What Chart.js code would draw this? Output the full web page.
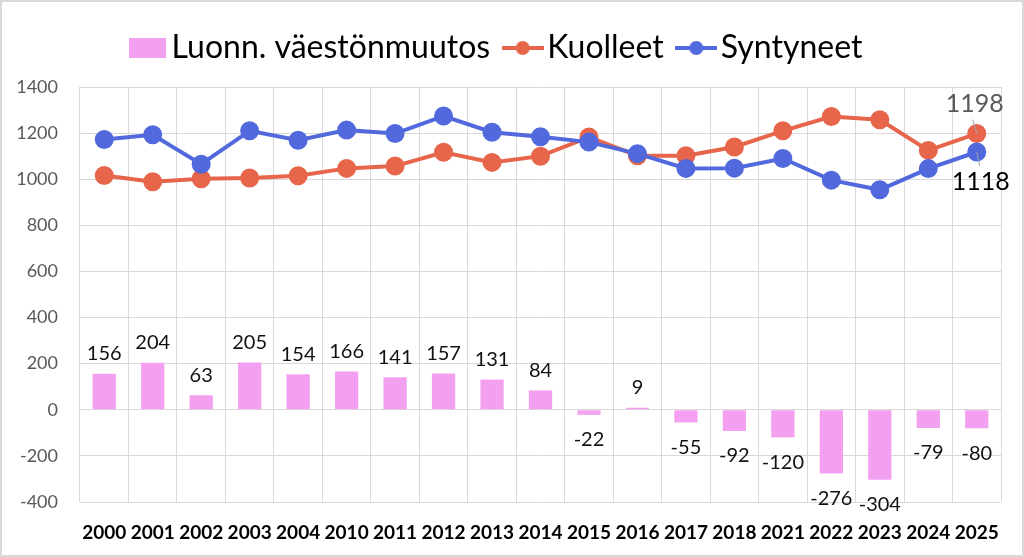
<!DOCTYPE html>
<html>
<head>
<meta charset="utf-8">
<script src="https://cdn.jsdelivr.net/npm/chart.js@4/dist/chart.umd.min.js"></script>
<style>
  html, body { margin: 0; padding: 0; background: #fff; }
  #wrap { width: 1024px; height: 557px; }
</style>
</head>
<body>
<div id="wrap"><canvas id="chart"></canvas></div>
<script>
// Years on the x axis (not continuous)
const years = ["2000", "2001", "2002", "2003", "2004", "2010", "2011", "2012", "2013", "2014",
  "2015", "2016", "2017", "2018", "2021", "2022", "2023", "2024", "2025"];

// Natural population change (bars)
const luonnMuutos = [156, 204, 63, 205, 154, 166, 141, 157, 131, 84,
  -22, 9, -55, -92, -120, -276, -304, -79, -80];

// Deaths
const kuolleet = [1016, 989, 1002, 1005, 1015, 1047, 1057, 1117, 1073, 1100,
  1183, 1102, 1102, 1140, 1210, 1272, 1258, 1125, 1198];

// Births
const syntyneet = [1172, 1193, 1065, 1210, 1169, 1213, 1198, 1274, 1204, 1184,
  1161, 1111, 1047, 1048, 1090, 996, 954, 1046, 1118];

const yMin = -400;
const yMax = 1400;
const yStep = 200;

const pink = "#f4a0f0";
const red = "#e7664b";
const blue = "#5169dc";

// Legend symbols: a box for the bars, a line with a dot for the lines
function boxSymbol() {
  const c = document.createElement("canvas");
  c.width = 37; c.height = 20;
  const g = c.getContext("2d");
  g.fillStyle = pink;
  g.fillRect(0, 0, 37, 20);
  return c;
}
function lineSymbol(color) {
  const c = document.createElement("canvas");
  c.width = 42; c.height = 16;
  const g = c.getContext("2d");
  g.strokeStyle = color;
  g.lineWidth = 4;
  g.beginPath(); g.moveTo(0, 8); g.lineTo(42, 8); g.stroke();
  g.fillStyle = color;
  g.beginPath(); g.arc(21, 8, 7, 0, Math.PI * 2); g.fill();
  return c;
}
const legendSymbols = [boxSymbol(), lineSymbol(red), lineSymbol(blue)];

// Frame round the whole picture
const framePlugin = {
  id: "frame",
  beforeDraw(chart) {
    const ctx = chart.ctx;
    ctx.save();
    ctx.fillStyle = "#fff";
    ctx.fillRect(0, 0, chart.width, chart.height);
    ctx.strokeStyle = "#d9d9d9";
    ctx.lineWidth = 2;
    ctx.strokeRect(1, 1, chart.width - 2, chart.height - 2);
    ctx.restore();
  },
};

// Extra room under the legend
const legendMargin = {
  id: "legendMargin",
  beforeInit(chart) {
    const fit = chart.legend.fit;
    chart.legend.fit = function () {
      fit.bind(chart.legend)();
      this.height += 13;
    };
  },
};

// Value labels for the bars and for the last points of the lines
const labelPlugin = {
  id: "valueLabels",
  afterDatasetsDraw(chart) {
    const ctx = chart.ctx;
    ctx.save();
    ctx.textAlign = "center";
    ctx.textBaseline = "middle";
    ctx.font = "20px Lato";
    ctx.fillStyle = "#111";
    const barMeta = chart.getDatasetMeta(0);
    barMeta.data.forEach((bar, i) => {
      const v = luonnMuutos[i];
      const y = v >= 0 ? bar.y - 20 : bar.y + 25;
      ctx.fillText(String(v), bar.x, y);
    });

    // last point labels with small leader lines
    const last = years.length - 1;
    const pr = chart.getDatasetMeta(1).data[last];
    const pb = chart.getDatasetMeta(2).data[last];
    ctx.strokeStyle = "#a6a6a6";
    ctx.lineWidth = 1;
    ctx.beginPath();
    ctx.moveTo(pr.x - 4, pr.y - 14); ctx.lineTo(pr.x, pr.y);
    ctx.moveTo(pb.x + 3, pb.y + 14); ctx.lineTo(pb.x, pb.y);
    ctx.stroke();
    ctx.font = "25px Lato";
    ctx.fillStyle = "#595959";
    ctx.fillText(String(kuolleet[last]), pr.x - 2, pr.y - 30);
    ctx.fillStyle = "#000";
    ctx.fillText(String(syntyneet[last]), pb.x + 4, pb.y + 30);
    ctx.restore();
  },
};

const ctx = document.getElementById("chart").getContext("2d");
const chart = new Chart(ctx, {
  type: "bar",
  data: {
    labels: years,
    datasets: [
      {
        type: "bar",
        label: "Luonn. väestönmuutos",
        data: luonnMuutos,
        backgroundColor: pink,
        barPercentage: 0.96,
        categoryPercentage: 0.5,
        order: 3,
      },
      {
        type: "line",
        label: "Kuolleet",
        data: kuolleet,
        borderColor: red,
        backgroundColor: red,
        borderWidth: 4,
        pointRadius: 7.5,
        pointHoverRadius: 7.5,
        tension: 0,
        order: 2,
      },
      {
        type: "line",
        label: "Syntyneet",
        data: syntyneet,
        borderColor: blue,
        backgroundColor: blue,
        borderWidth: 4,
        pointRadius: 7.5,
        pointHoverRadius: 7.5,
        tension: 0,
        order: 1,
      },
    ],
  },
  options: {
    responsive: true,
    maintainAspectRatio: false,
    animation: false,
    layout: {
      padding: { top: 8, right: 23, bottom: 0, left: 0 },
    },
    plugins: {
      tooltip: { enabled: false },
      legend: {
        position: "top",
        labels: {
          usePointStyle: true,
          pointStyleWidth: 17,
          boxHeight: 20,
          padding: 24,
          color: "#000",
          font: { family: "Lato", size: 32 },
          sort: (a, b) => a.datasetIndex - b.datasetIndex,
          generateLabels(chart) {
            const items = Chart.defaults.plugins.legend.labels.generateLabels(chart);
            items.forEach((item) => {
              item.pointStyle = legendSymbols[item.datasetIndex];
            });
            return items;
          },
        },
      },
    },
    scales: {
      x: {
        grid: { color: "#d9d9d9", lineWidth: 1, drawTicks: false, offset: true },
        border: { display: false },
        ticks: {
          color: "#000",
          padding: 19,
          maxRotation: 0,
          autoSkip: false,
          font: { family: "Lato", size: 19, weight: "bold" },
        },
        afterFit(scale) {
          scale.height = 55;
        },
      },
      y: {
        min: yMin,
        max: yMax,
        grid: { color: "#d9d9d9", lineWidth: 1, drawTicks: false },
        border: { display: false },
        ticks: {
          stepSize: yStep,
          color: "#595959",
          padding: 22,
          font: { family: "Lato", size: 18 },
          callback: (value) => String(value),
        },
        afterFit(scale) {
          scale.width = 80;
        },
      },
    },
  },
  plugins: [framePlugin, legendMargin, labelPlugin],
});
</script>
</body>
</html>
